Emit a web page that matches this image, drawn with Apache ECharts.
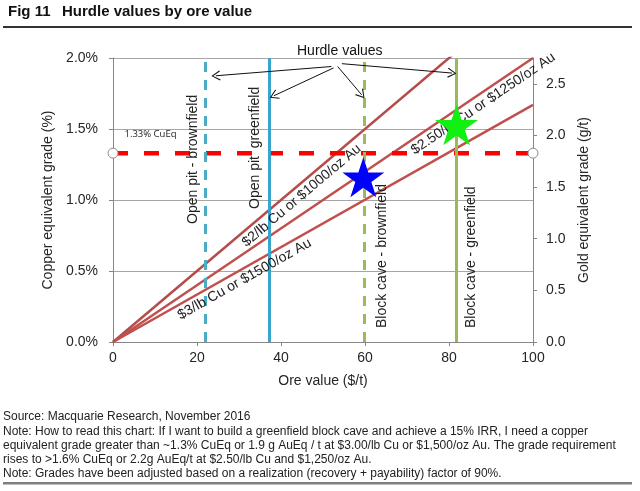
<!DOCTYPE html>
<html>
<head>
<meta charset="utf-8">
<script src="https://cdn.jsdelivr.net/npm/echarts@6/dist/echarts.min.js"></script>
<style>
html, body { margin: 0; padding: 0; background: #fff; }
#chart { width: 640px; height: 491px; }
</style>
</head>
<body>
<div id="chart"></div>
<script>
// ore value ($/t) vs copper equivalent grade (%)
const xTicks = [0, 20, 40, 60, 80, 100];
const cuTicks = [0, 0.5, 1.0, 1.5, 2.0];
const auTicks = [0, 0.5, 1.0, 1.5, 2.0, 2.5];

// price decks -> grade (%) needed at 100 $/t ore value
const priceLabels = ['$2/lb Cu or $1000/oz Au', '$2.50/lb Cu or $1250/oz Au', '$3/lb Cu or $1500/oz Au'];
const gradeAt100 = [2.5, 2.0, 1.67];

// hurdle ore values ($/t)
const hurdleNames = ['Open pit - brownfield', 'Open pit  greenfield', 'Block cave - brownfield', 'Block cave - greenfield'];
const hurdleValues = [21.9, 37.3, 59.8, 81.7];

const cuEqHurdle = 1.33;
const blueStar = [59.6, 1.16];
const greenStar = [81.8, 1.53];

// "Hurdle values" arrows, from -> to
const arrowFrom = [[52, 1.94], [52.5, 1.93], [53.5, 1.94], [54.5, 1.96]];
const arrowTo = [[24.5, 1.875], [38.3, 1.734], [59.2, 1.741], [80.7, 1.894]];

const FONT = 'Liberation Sans, Arial, sans-serif';
const STAR = 'path://M100,0L122.45,69.1L195.1,69.1L136.3,111.8L158.8,180.9L100,138.2L41.2,180.9L63.7,111.8L4.9,69.1L77.55,69.1Z';
const CHEVRON = 'path://M50,0L100,80L92,88L50,18L8,88L0,80Z';

const lineColors = ['#b44c49', '#c0504d', '#c0504d'];
const labelDist = [[163, 3], [355, 3], [70, 3]];

const hurdleStyle = [
    {color: '#4bacc6', type: [10, 8], pos: 'insideStartTop', dist: [118, 5]},
    {color: '#3aa5cc', type: 'solid', pos: 'insideStartTop', dist: [133, 8]},
    {color: '#9bbb59', type: [10, 8], pos: 'insideStartBottom', dist: [14, 11]},
    {color: '#96bd55', type: 'solid', pos: 'insideStartBottom', dist: [14, 8]}
];

const yMax = cuTicks[cuTicks.length - 1];
const chart = echarts.init(document.getElementById('chart'));

const series = [];

priceLabels.forEach((name, i) => {
    // label guide stops where the line leaves the plot
    const endX = gradeAt100[i] > yMax ? 100 * yMax / gradeAt100[i] : 100;
    series.push({
        name: name,
        type: 'line',
        z: 2,
        clip: true,
        symbol: 'none',
        silent: true,
        data: [[0, 0], [100, gradeAt100[i]]],
        lineStyle: {color: lineColors[i], width: 2.5},
        markLine: {
            silent: true,
            symbol: 'none',
            animation: false,
            lineStyle: {color: 'rgba(0,0,0,0)', width: 0, type: 'solid'},
            label: {
                show: true,
                position: 'insideStartBottom',
                distance: labelDist[i],
                formatter: name,
                color: '#222',
                fontSize: 14,
                fontFamily: FONT
            },
            data: [[{coord: [0, 0]}, {coord: [endX, gradeAt100[i] * endX / 100]}]]
        }
    });
});

// hurdle value verticals
series.push({
    type: 'line',
    z: 3,
    data: [],
    markLine: {
        silent: true,
        symbol: 'none',
        animation: false,
        data: hurdleValues.map((v, i) => ({
            xAxis: v,
            lineStyle: {color: hurdleStyle[i].color, width: 3, type: hurdleStyle[i].type},
            label: {
                show: true,
                position: hurdleStyle[i].pos,
                distance: hurdleStyle[i].dist,
                formatter: hurdleNames[i],
                color: '#222',
                fontSize: 14,
                fontFamily: FONT
            }
        }))
    }
});

// arrows from the "Hurdle values" note
series.push({
    type: 'line',
    z: 6,
    data: [],
    markLine: {
        silent: true,
        symbol: ['none', CHEVRON],
        symbolSize: [10, 9],
        animation: false,
        lineStyle: {color: '#111', width: 1, type: 'solid'},
        label: {show: false},
        data: arrowFrom.map((f, i) => [{coord: f}, {coord: arrowTo[i]}])
    }
});

// 1.33% CuEq line
series.push({
    type: 'line',
    z: 4,
    symbol: 'circle',
    symbolSize: 10,
    showAllSymbol: true,
    itemStyle: {color: '#fff', borderColor: '#8c8c8c', borderWidth: 1},
    lineStyle: {color: '#ff0000', width: 4.5, type: [15, 16]},
    data: [
        {
            value: [0, cuEqHurdle],
            label: {
                show: true,
                position: [17, -18],
                formatter: cuEqHurdle.toFixed(2) + '% CuEq',
                color: '#222',
                fontSize: 9.5,
                fontFamily: 'Open Sans, DejaVu Sans, sans-serif'
            }
        },
        [100, cuEqHurdle]
    ]
});

series.push({
    type: 'scatter',
    z: 5,
    symbol: STAR,
    symbolSize: [42, 40],
    itemStyle: {color: '#0000ff', opacity: 1},
    data: [blueStar]
});
series.push({
    type: 'scatter',
    z: 5,
    symbol: STAR,
    symbolSize: [43, 41],
    itemStyle: {color: '#11f011', opacity: 1},
    data: [greenStar]
});

const axisText = {color: '#262626', fontSize: 14, fontFamily: FONT};

const footer = [
    'Source: Macquarie Research, November 2016',
    'Note: How to read this chart: If I want to build a greenfield block cave and achieve a 15% IRR, I need a copper',
    'equivalent grade greater than ~1.3% CuEq or 1.9 g AuEq / t at $3.00/lb Cu or $1,500/oz Au. The grade requirement',
    'rises to >1.6% CuEq or 2.2g AuEq/t at $2.50/lb Cu and $1,250/oz Au.',
    'Note: Grades have been adjusted based on a realization (recovery + payability) factor of 90%.'
];

chart.setOption({
    animation: false,
    backgroundColor: '#fff',
    grid: {left: 113, right: 107, top: 58, bottom: 149, containLabel: false},
    xAxis: {
        type: 'value',
        min: xTicks[0],
        max: xTicks[xTicks.length - 1],
        interval: 20,
        name: 'Ore value ($/t)',
        nameLocation: 'middle',
        nameGap: 32,
        nameTextStyle: axisText,
        axisLine: {show: true, lineStyle: {color: '#868686', width: 1}},
        axisTick: {show: true, length: 4, lineStyle: {color: '#868686'}},
        axisLabel: Object.assign({margin: 9}, axisText),
        splitLine: {show: false}
    },
    yAxis: [
        {
            type: 'value',
            min: cuTicks[0],
            max: yMax,
            interval: 0.5,
            name: 'Copper equivalent grade (%)',
            nameLocation: 'middle',
            nameGap: 50,
            nameTextStyle: axisText,
            axisLine: {show: true, lineStyle: {color: '#868686', width: 1}},
            axisTick: {show: true, length: 4, lineStyle: {color: '#868686'}},
            axisLabel: Object.assign({margin: 15, formatter: v => v.toFixed(1) + '%'}, axisText),
            splitLine: {show: true, lineStyle: {color: '#a6a6a6', width: 1}}
        },
        {
            type: 'value',
            position: 'right',
            min: auTicks[0],
            max: 2.75,
            interval: 0.5,
            name: 'Gold equivalent grade (g/t)',
            nameLocation: 'middle',
            nameGap: 44,
            nameTextStyle: axisText,
            axisLine: {show: true, lineStyle: {color: '#868686', width: 1}},
            axisTick: {show: true, length: 4, lineStyle: {color: '#868686'}},
            axisLabel: Object.assign({margin: 13, showMaxLabel: false, formatter: v => v.toFixed(1)}, axisText),
            splitLine: {show: false}
        }
    ],
    graphic: [
        {type: 'text', left: 8, top: 4, style: {text: 'Fig 11', font: 'bold 15px ' + FONT, fill: '#111'}},
        {type: 'text', left: 62, top: 4, style: {text: 'Hurdle values by ore value', font: 'bold 15px ' + FONT, fill: '#111'}},
        {type: 'rect', left: 3, top: 26, shape: {width: 629, height: 2}, style: {fill: '#333'}},
        {type: 'text', left: 297, top: 44, style: {text: 'Hurdle values', font: '14px ' + FONT, fill: '#111'}},
        {
            type: 'text', left: 3, top: 410,
            style: {text: footer.join('\n'), font: '12px ' + FONT, lineHeight: 14.2, fill: '#222'}
        },
        {type: 'rect', left: 3, top: 482, shape: {width: 629, height: 2.5}, style: {fill: '#7f7f7f'}}
    ],
    series: series
});
</script>
</body>
</html>
